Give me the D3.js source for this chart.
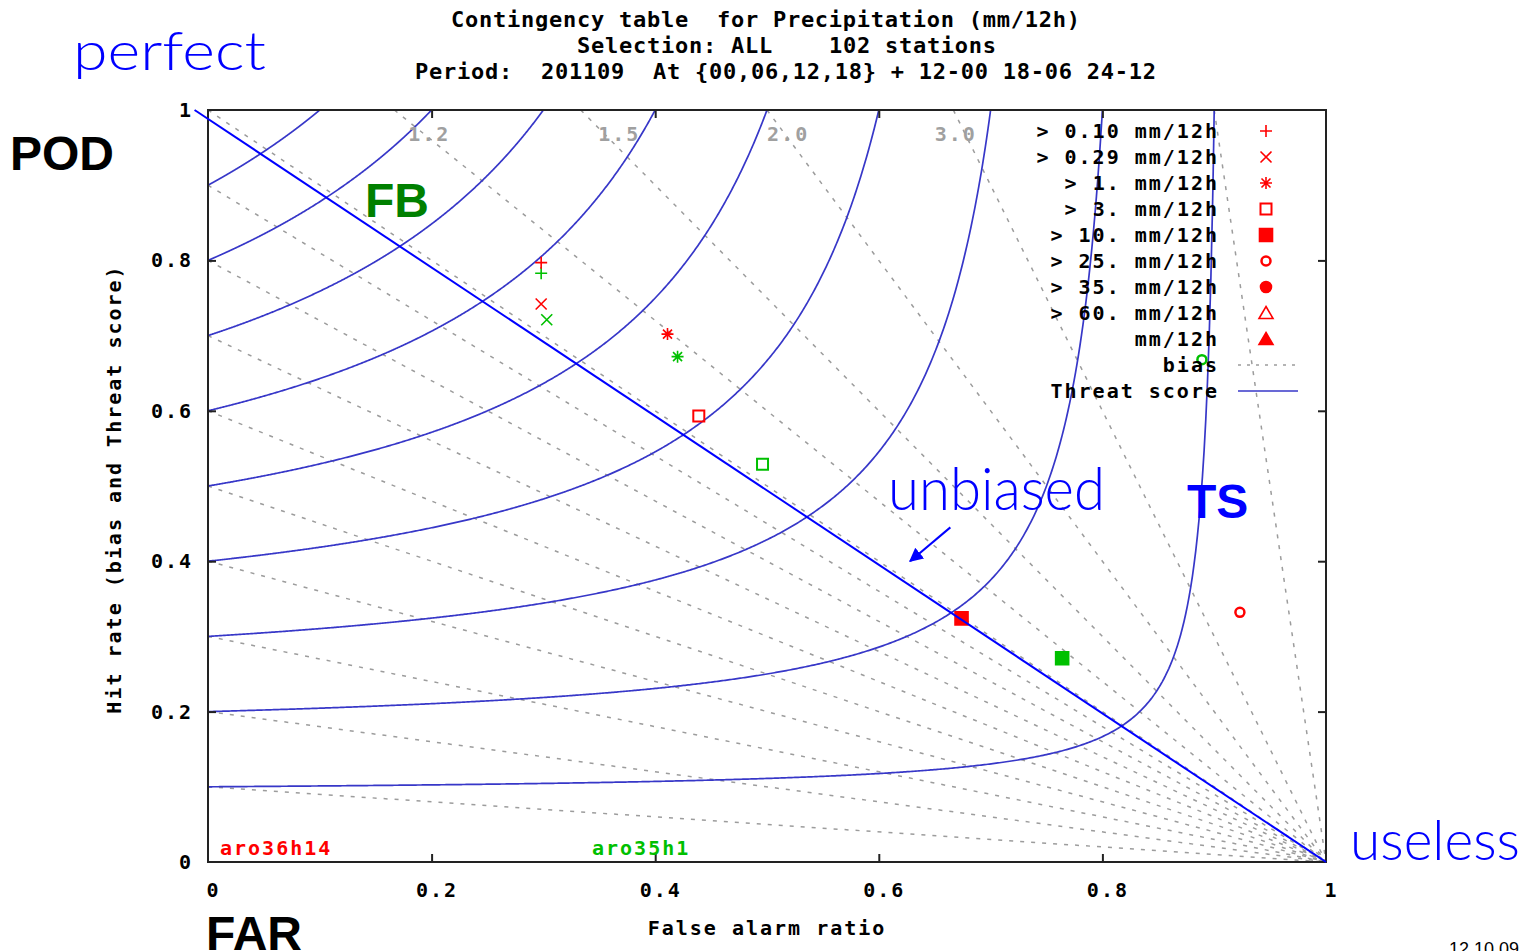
<!DOCTYPE html>
<html>
<head>
<meta charset="utf-8">
<script src="https://cdn.jsdelivr.net/npm/d3@7"></script>
<style>
body { margin: 0; background: #fff; }
</style>
</head>
<body>
<div id="chart"></div>
<script>
// legend entries and their marker types
var thresholds = ["> 0.10 mm/12h", "> 0.29 mm/12h", "> 1. mm/12h", "> 3. mm/12h",
    "> 10. mm/12h", "> 25. mm/12h", "> 35. mm/12h", "> 60. mm/12h", "mm/12h"];
var markerTypes = ["plus", "cross", "star", "square", "squareFill", "ring", "dot", "triangle", "triangleFill"];

// experiment aro36h14 (red) : false alarm ratio / hit rate per threshold
var farRed = [0.298, 0.298, 0.411, 0.439, 0.674, 0.923];
var podRed = [0.797, 0.742, 0.702, 0.593, 0.324, 0.332];
// experiment aro35h1 (green)
var farGreen = [0.298, 0.303, 0.420, 0.496, 0.764, 0.889];
var podGreen = [0.783, 0.721, 0.672, 0.529, 0.271, 0.668];

// threat score isolines and frequency bias lines
var tsLevels = [0.1, 0.2, 0.3, 0.4, 0.5, 0.6, 0.7, 0.8, 0.9];
var biasLevels = [0.1, 0.2, 0.3, 0.4, 0.5, 0.6, 0.7, 0.8, 0.9, 1, 1.2, 1.5, 2, 3, 10];
var biasLabelText = ["1.2", "1.5", "2.0", "3.0"];
var biasLabelFar = [0.197, 0.367, 0.518, 0.668];

var tickValues = [0, 0.2, 0.4, 0.6, 0.8, 1];
var tickLabels = ["0", "0.2", "0.4", "0.6", "0.8", "1"];

var W = 1530, H = 951;
var plotL = 208, plotR = 1326, plotT = 110, plotB = 862;

var svg = d3.select("#chart")
    .append("svg")
    .attr("width", W)
    .attr("height", H);

var x = d3.scaleLinear().domain([0, 1]).range([plotL, plotR]);
var y = d3.scaleLinear().domain([0, 1]).range([plotB, plotT]);

function mono(sel, size, spacing) {
    sel.attr("font-family", "DejaVu Sans Mono")
        .attr("font-weight", "bold")
        .attr("font-size", size + "px")
        .attr("letter-spacing", spacing + "px");
    return sel;
}

// title
var titleLines = ["Contingency table  for Precipitation (mm/12h)",
    "Selection: ALL    102 stations",
    "Period:  201109  At {00,06,12,18} + 12-00 18-06 24-12"];
var titleX = [451, 577, 415];
titleLines.forEach(function (t, i) {
    svg.append("text")
        .attr("x", titleX[i])
        .attr("y", 27 + i * 26)
        .attr("fill", "#000")
        .style("white-space", "pre")
        .call(mono, 22, 0.75)
        .text(t);
});

svg.append("clipPath").attr("id", "plotclip")
    .append("rect")
    .attr("x", plotL).attr("y", plotT)
    .attr("width", plotR - plotL).attr("height", plotB - plotT);

var plot = svg.append("g").attr("clip-path", "url(#plotclip)");

// bias lines: POD = B * (1 - FAR)
var biasLine = d3.line()
    .x(function (d) { return x(d[0]); })
    .y(function (d) { return y(d[1]); });

plot.selectAll(".bias")
    .data(biasLevels)
    .enter()
    .append("path")
    .attr("class", "bias")
    .attr("d", function (b) {
        var start = b <= 1 ? [0, b] : [1 - 1 / b, 1];
        return biasLine([start, [1, 0]]);
    })
    .attr("fill", "none")
    .attr("stroke", "#9c9c9c")
    .attr("stroke-width", 1.5)
    .attr("stroke-dasharray", "4,7");

// threat score isolines
var tsLine = d3.line()
    .x(function (d) { return x(d[0]); })
    .y(function (d) { return y(d[1]); });

plot.selectAll(".ts")
    .data(tsLevels)
    .enter()
    .append("path")
    .attr("class", "ts")
    .attr("d", function (ts) {
        var pts = [];
        var n = 600;
        for (var i = 0; i < n; i++) {
            var far = (1 - ts) * i / n;
            var inv = 1 / ts + 1 - 1 / (1 - far);
            pts.push([far, 1 / inv]);
        }
        // finish the steep part by stepping in POD
        var podEnd = pts[pts.length - 1][1];
        for (var j = 1; j <= 60; j++) {
            var pod = podEnd + (1 - podEnd) * j / 60;
            pts.push([1 - 1 / (1 / ts + 1 - 1 / pod), pod]);
        }
        return tsLine(pts);
    })
    .attr("fill", "none")
    .attr("stroke", "#3737c8")
    .attr("stroke-width", 1.7);

// bias labels along the top
svg.selectAll(".biaslab")
    .data(biasLabelText)
    .enter()
    .append("text")
    .attr("class", "biaslab")
    .attr("x", function (d, i) { return x(biasLabelFar[i]) + 1; })
    .attr("y", y(0.97) + 8)
    .attr("text-anchor", "middle")
    .attr("fill", "#a0a0a0")
    .call(mono, 20, 2)
    .text(function (d) { return d; });

// frame
svg.append("rect")
    .attr("x", plotL).attr("y", plotT)
    .attr("width", plotR - plotL).attr("height", plotB - plotT)
    .attr("fill", "none")
    .attr("stroke", "#222")
    .attr("stroke-width", 2);

// axes (ticks point inward, mirrored on top and right)
var xAxis = svg.append("g")
    .attr("transform", "translate(0," + plotB + ")")
    .call(d3.axisBottom(x).tickValues(tickValues).tickSize(-8).tickPadding(21)
        .tickFormat(function (d, i) { return tickLabels[i]; }));
var yAxis = svg.append("g")
    .attr("transform", "translate(" + plotL + ",0)")
    .call(d3.axisLeft(y).tickValues(tickValues).tickSize(-8).tickPadding(16)
        .tickFormat(function (d, i) { return tickLabels[i]; }));
svg.append("g")
    .attr("transform", "translate(0," + plotT + ")")
    .call(d3.axisTop(x).tickValues(tickValues.slice(1, 5)).tickSize(-8).tickFormat(""));
svg.append("g")
    .attr("transform", "translate(" + plotR + ",0)")
    .call(d3.axisRight(y).tickValues(tickValues.slice(1, 5)).tickSize(-8).tickFormat(""));

svg.selectAll(".domain").remove();
svg.selectAll(".tick line").attr("stroke", "#222").attr("stroke-width", 2);
xAxis.selectAll(".tick text").call(mono, 20, 2).attr("fill", "#000").attr("dx", 5);
yAxis.selectAll(".tick text").call(mono, 20, 2).attr("fill", "#000").attr("dx", 1);
xAxis.selectAll(".tick").filter(function (d) { return d === 0 || d === 1; }).select("line").remove();
yAxis.selectAll(".tick").filter(function (d) { return d === 0 || d === 1; }).select("line").remove();

// axis titles
svg.append("text")
    .attr("x", 767)
    .attr("y", 935)
    .attr("text-anchor", "middle")
    .call(mono, 20, 2)
    .text("False alarm ratio");
svg.append("text")
    .attr("transform", "translate(121,489) rotate(-90)")
    .attr("text-anchor", "middle")
    .call(mono, 20, 2)
    .text("Hit rate (bias and Threat score)");

// marker shapes
var shapes = {
    plus: "M-6,0H6M0,-6V6",
    cross: "M-5.5,-5.5L5.5,5.5M-5.5,5.5L5.5,-5.5",
    star: "M-6,0H6M0,-6V6M-4.5,-4.5L4.5,4.5M-4.5,4.5L4.5,-4.5",
    square: "M-5.5,-5.5H5.5V5.5H-5.5Z",
    squareFill: "M-6.5,-6.5H6.5V6.5H-6.5Z",
    ring: "M4.5,0A4.5,4.5 0 1,1 -4.5,0A4.5,4.5 0 1,1 4.5,0Z",
    dot: "M5.5,0A5.5,5.5 0 1,1 -5.5,0A5.5,5.5 0 1,1 5.5,0Z",
    triangle: "M0,-6.5L7,5.5H-7Z",
    triangleFill: "M0,-6.5L7,5.5H-7Z"
};
var filled = { squareFill: true, dot: true, triangleFill: true };

function drawMarker(g, type, color) {
    g.append("path")
        .attr("d", shapes[type])
        .attr("fill", filled[type] ? color : (type === "ring" ? "#fff" : "none"))
        .attr("stroke", color)
        .attr("stroke-width", type === "ring" ? 2.5 : (type === "square" ? 2 : 1.6));
}

function drawSeries(fars, pods, color) {
    fars.forEach(function (f, i) {
        var g = svg.append("g")
            .attr("transform", "translate(" + x(f) + "," + y(pods[i]) + ")");
        drawMarker(g, markerTypes[i], color);
    });
}
drawSeries(farGreen, podGreen, "#00c000");
drawSeries(farRed, podRed, "#ff0000");

// legend
thresholds.forEach(function (t, i) {
    svg.append("text")
        .attr("x", 1219)
        .attr("y", 138 + i * 26)
        .attr("text-anchor", "end")
        .attr("fill", "#000")
        .call(mono, 20, 2)
        .text(t);
    var g = svg.append("g").attr("transform", "translate(1266," + (131 + i * 26) + ")");
    drawMarker(g, markerTypes[i], "#ff0000");
});
svg.append("text")
    .attr("x", 1219).attr("y", 138 + 9 * 26)
    .attr("text-anchor", "end")
    .call(mono, 20, 2)
    .text("bias");
svg.append("line")
    .attr("x1", 1238).attr("x2", 1298)
    .attr("y1", 365).attr("y2", 365)
    .attr("stroke", "#9c9c9c").attr("stroke-width", 1.5).attr("stroke-dasharray", "3,6");
svg.append("text")
    .attr("x", 1219).attr("y", 138 + 10 * 26)
    .attr("text-anchor", "end")
    .call(mono, 20, 2)
    .text("Threat score");
svg.append("line")
    .attr("x1", 1238).attr("x2", 1298)
    .attr("y1", 391).attr("y2", 391)
    .attr("stroke", "#3737c8").attr("stroke-width", 1.7);

// experiment names
svg.append("text")
    .attr("x", 220).attr("y", 855)
    .attr("fill", "#ff0000")
    .call(mono, 20, 2)
    .text("aro36h14");
svg.append("text")
    .attr("x", 592).attr("y", 855)
    .attr("fill", "#00c000")
    .call(mono, 20, 2)
    .text("aro35h1");

// annotations
svg.append("line")
    .attr("x1", x(-0.012)).attr("y1", y(1))
    .attr("x2", x(1)).attr("y2", y(0))
    .attr("stroke", "#0000ff")
    .attr("stroke-width", 2);

svg.append("defs").append("marker")
    .attr("id", "arrow")
    .attr("viewBox", "0 0 10 10")
    .attr("refX", 9).attr("refY", 5)
    .attr("markerWidth", 7).attr("markerHeight", 7)
    .attr("orient", "auto")
    .append("path")
    .attr("d", "M0,0L10,5L0,10Z")
    .attr("fill", "#0000ff");
svg.append("line")
    .attr("x1", x(0.664)).attr("y1", y(0.445))
    .attr("x2", x(0.628)).attr("y2", y(0.40))
    .attr("stroke", "#0000ff")
    .attr("stroke-width", 2)
    .attr("marker-end", "url(#arrow)");

function hand(txt, xx, yy, len, size) {
    svg.append("text")
        .attr("x", xx).attr("y", yy)
        .attr("font-family", "Lato")
        .attr("font-weight", 300)
        .attr("font-size", size + "px")
        .attr("fill", "#0000ff")
        .attr("textLength", len)
        .attr("lengthAdjust", "spacingAndGlyphs")
        .text(txt);
}
hand("perfect", 73, 70, 193, 54);
hand("unbiased", 888, 510, 217, 60);
hand("useless", 1350, 860, 170, 56);

function big(txt, xx, yy, color) {
    svg.append("text")
        .attr("x", xx).attr("y", yy)
        .attr("font-family", "Liberation Sans, Arial, sans-serif")
        .attr("font-weight", "bold")
        .attr("font-size", "48px")
        .attr("fill", color)
        .text(txt);
}
big("POD", 10, 170, "#000");
big("FAR", 206, 950, "#000");
big("FB", 365, 217, "#008000");
big("TS", 1187, 518, "#0000ff");

svg.append("text")
    .attr("x", 1449).attr("y", 955)
    .attr("font-family", "Liberation Sans, Arial, sans-serif")
    .attr("font-size", "18px")
    .attr("fill", "#000")
    .text("12.10.09");
</script>
</body>
</html>
